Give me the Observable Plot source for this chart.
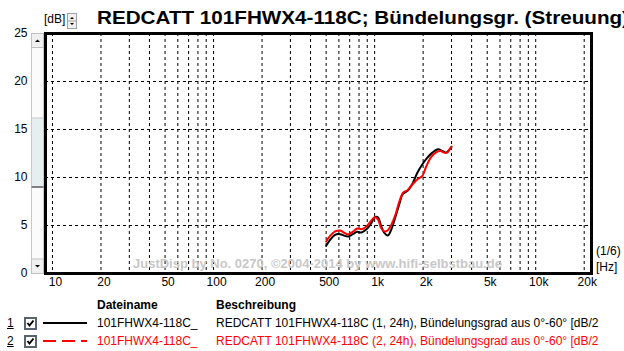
<!DOCTYPE html>
<html>
<head>
<meta charset="utf-8">
<script src="https://cdn.jsdelivr.net/npm/d3@7"></script>
<script src="https://cdn.jsdelivr.net/npm/@observablehq/plot@0.6"></script>
<style>
  html, body { margin: 0; padding: 0; background: #fff; }
  #wrap { position: relative; width: 624px; height: 351px; overflow: hidden; background: #fff;
          font-family: Arial, "Liberation Sans", sans-serif; color: #000; }
  #wrap > svg { position: absolute; left: 0; top: 0; }
  .abs { position: absolute; white-space: nowrap; font-size: 12px; line-height: 14px; }
  .b { font-weight: bold; }
  .red { color: #ff0000; }
</style>
</head>
<body>
<div id="wrap"></div>
<script>
// ---- data ----
const titleText = "REDCATT 101FHWX4-118C; Bündelungsgr. (Streuung)";
const yUnit = "[dB]";
const xUnitTop = "(1/6)";
const xUnit = "[Hz]";
const watermark = "JustDisp by No. 0270, ©2004-2014 by www.hifi-selbstbau.de";

const xTicks = [10, 20, 50, 100, 200, 500, 1000, 2000, 5000, 10000, 20000];
const xTickLabels = ["10", "20", "50", "100", "200", "500", "1k", "2k", "5k", "10k", "20k"];
const xGrid = [10,20,30,40,50,60,70,80,90,100,200,300,400,500,600,700,800,900,
               1000,2000,3000,4000,5000,6000,7000,8000,9000,10000,20000];
const yTicks = [0, 5, 10, 15, 20, 25];
const yGrid = [5, 10, 15, 20];

const freqBlack = [500,529,568,610,654,685,736,779,829,889,954,1000,1048,1099,1152,1207,1266,1346,1424,1493,1601,1720,1845,1980,2125,2282,2482,2627,2781,2890,3000];
const dbBlack   = [2.88,3.5,4.03,4.1,3.92,3.86,4.13,4.34,4.27,4.6,5.24,5.86,5.86,4.9,4.2,3.96,4.54,5.9,7.25,8.27,8.61,9.38,10.52,11.38,12.07,12.59,12.94,12.76,12.59,12.83,13.2];
const freqRed   = [500,529,568,610,654,685,736,779,829,889,954,1000,1048,1099,1152,1207,1266,1346,1424,1507,1601,1720,1845,1980,2078,2230,2393,2568,2693,2819,2920,3000];
const dbRed     = [3.34,3.92,4.38,4.48,4.2,4.07,4.38,4.69,4.62,4.9,5.52,5.86,5.65,4.72,4.38,4.51,5.03,6.1,7.5,8.44,8.68,9.3,9.82,10.17,11.04,12.07,12.59,12.76,12.59,12.59,12.94,13.2];

const legendHeader = ["Dateiname", "Beschreibung"];
const seriesNames = ["101FHWX4-118C_", "101FHWX4-118C_"];
const seriesDesc = ["REDCATT 101FHWX4-118C (1, 24h), Bündelungsgrad aus 0°-60° [dB/2",
                    "REDCATT 101FHWX4-118C (2, 24h), Bündelungsgrad aus 0°-60° [dB/2"];
const seriesColors = ["#000000", "#ff0000"];

// ---- build ----
const black = freqBlack.map((f, i) => ({f, db: dbBlack[i]}));
const red = freqRed.map((f, i) => ({f, db: dbRed[i]}));
const xTickData = xTicks.map((t, i) => ({t, label: xTickLabels[i]}));

const chart = Plot.plot({
  width: 624,
  height: 300,
  marginLeft: 45,
  marginRight: 33,
  marginTop: 33,
  marginBottom: 27,
  style: { fontFamily: 'Arial, "Liberation Sans", sans-serif', fontSize: "12px", color: "#000", background: "transparent" },
  x: { type: "log", domain: [9.05, 22200], axis: null },
  y: { domain: [0, 25] },
  marks: [
    Plot.ruleX(xGrid, { stroke: "#000", strokeWidth: 1, strokeDasharray: "3,3" }),
    Plot.ruleY(yGrid, { stroke: "#000", strokeWidth: 1, strokeDasharray: "3,3" }),
    Plot.line(black, { x: "f", y: "db", stroke: seriesColors[0], strokeWidth: 2, curve: "catmull-rom" }),
    Plot.line(red, { x: "f", y: "db", stroke: seriesColors[1], strokeWidth: 2, curve: "catmull-rom" }),
    Plot.frame({ stroke: "#000", strokeWidth: 3 }),
    Plot.text(xTickData, { x: "t", text: "label", frameAnchor: "bottom", dy: 12, dx: 3, fontSize: 12, fill: "#000" }),
    Plot.axisY(yTicks, { tickSize: 0, tickPadding: 18, label: null, fontSize: 12 })
  ]
});

const wrap = document.getElementById("wrap");
wrap.appendChild(chart);

function add(html, style, cls) {
  const d = document.createElement("div");
  d.className = "abs " + (cls || "");
  d.style.cssText += style;
  d.innerHTML = html;
  wrap.appendChild(d);
  return d;
}

// title as svg text (fitted width, clipped at right edge)
const ns = "http://www.w3.org/2000/svg";
const tsvg = document.createElementNS(ns, "svg");
tsvg.setAttribute("width", 624); tsvg.setAttribute("height", 32);
tsvg.style.cssText = "position:absolute;left:0;top:0;";
const tt = document.createElementNS(ns, "text");
tt.setAttribute("x", 97); tt.setAttribute("y", 24);
tt.setAttribute("font-family", 'Arial, "Liberation Sans", sans-serif');
tt.setAttribute("font-weight", "bold");
tt.setAttribute("font-size", "19");
tt.setAttribute("textLength", 532);
tt.setAttribute("lengthAdjust", "spacingAndGlyphs");
tt.textContent = titleText;
tsvg.appendChild(tt);
wrap.appendChild(tsvg);

// [dB] unit and spinner
add(yUnit, "left:44px;top:12px;");
add('<svg width="10" height="16"><rect x="0.5" y="0.5" width="9" height="15" fill="#f0f0f0" stroke="#a0a0a0"/><line x1="1" y1="8" x2="9" y2="8" stroke="#a0a0a0"/><path d="M3 6 L5 4 L7 6 Z" fill="#000"/><path d="M3 10 L5 12 L7 10 Z" fill="#000"/></svg>',
    "left:67px;top:13px;line-height:0;");

// scrollbar (decoration)
add('<svg width="13" height="241">' +
    '<rect x="0.5" y="0.5" width="12" height="240" fill="#fbfbfb" stroke="#c8c8c8"/>' +
    '<rect x="0.5" y="85" width="12" height="69" fill="#e7eef0" stroke="#c8c8c8"/>' +
    '<line x1="0.5" y1="154" x2="12.5" y2="154" stroke="#808080" stroke-width="2"/>' +
    '<rect x="0.5" y="0.5" width="12" height="14" fill="#f0f0f0" stroke="#c0c0c0"/>' +
    '<path d="M4 9 L6.5 6.5 L9 9 Z" fill="#000"/>' +
    '<rect x="0.5" y="226" width="12" height="14.5" fill="#f0f0f0" stroke="#c0c0c0"/>' +
    '<path d="M4 232 L6.5 234.5 L9 232 Z" fill="#000"/>' +
    '</svg>', "left:31px;top:33px;line-height:0;");

// x unit labels
add(xUnitTop, "left:596px;top:244px;");
add(xUnit, "left:596px;top:260px;");

// watermark
add(watermark, "left:133px;top:257px;font-size:13px;color:#c8c8c8;", "b");

// legend
add(legendHeader[0], "left:97px;top:298px;", "b");
add(legendHeader[1], "left:216px;top:298px;", "b");
const rowsY = [316, 334];
seriesNames.forEach((name, i) => {
  const cls = i === 1 ? "red" : "";
  add('<span style="text-decoration:underline;color:#000">' + (i + 1) + '</span>', "left:7px;top:" + rowsY[i] + "px;");
  add('<svg width="13" height="13"><rect x="0.5" y="0.5" width="12" height="12" fill="#fff" stroke="#5a6470" stroke-width="1"/><rect x="1.5" y="1.5" width="10" height="10" fill="none" stroke="#5a6470" stroke-width="1"/><path d="M3.5 6 L5.5 8.5 L9.5 3.5" fill="none" stroke="#000" stroke-width="2"/></svg>',
      "left:24px;top:" + (rowsY[i] + 1) + "px;line-height:0;");
  const dash = i === 1 ? ' stroke-dasharray="13,6"' : '';
  add('<svg width="44" height="4"><line x1="0" y1="2" x2="44" y2="2" stroke="' + seriesColors[i] + '" stroke-width="2"' + dash + '/></svg>',
      "left:43px;top:" + (rowsY[i] + 5) + "px;line-height:0;");
  add(name, "left:97px;top:" + rowsY[i] + "px;", cls);
  add(seriesDesc[i], "left:216px;top:" + rowsY[i] + "px;", cls);
});
</script>
</body>
</html>
